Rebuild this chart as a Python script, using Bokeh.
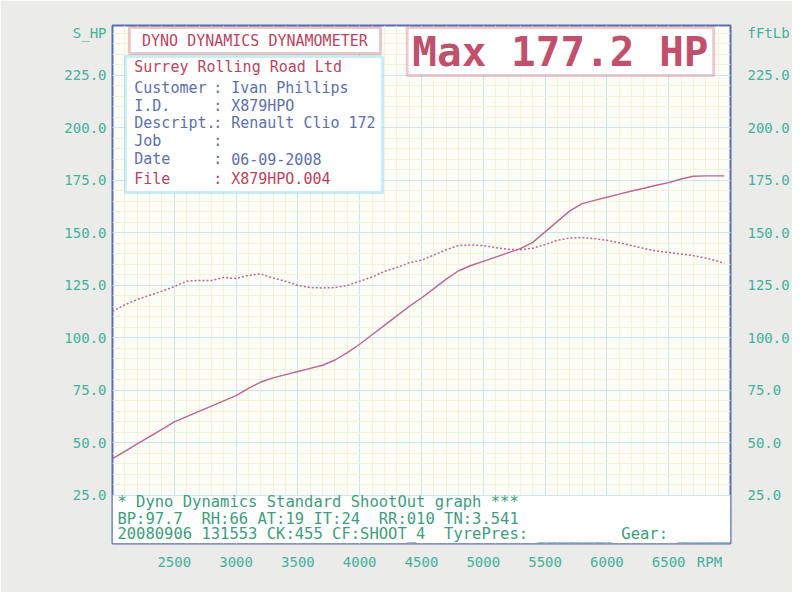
from bokeh.plotting import figure
from bokeh.models import (Range1d, LinearAxis, FixedTicker, SingleIntervalTicker,
                          NumeralTickFormatter, BoxAnnotation, Label, ColumnDataSource)
from bokeh.embed import file_html
from bokeh.resources import INLINE

# ---------------- data ----------------
rpm = [2000, 2100, 2200, 2300, 2400, 2500, 2600, 2700, 2800, 2900,
       3000, 3100, 3200, 3300, 3400, 3500, 3600, 3700, 3800, 3900,
       4000, 4100, 4200, 4300, 4400, 4500, 4600, 4700, 4800, 4900,
       5000, 5100, 5200, 5300, 5400, 5500, 5600, 5700, 5800, 5900,
       6000, 6100, 6200, 6300, 6400, 6500, 6600, 6700, 6800, 6900, 6950]
power_hp = [42.5, 46.0, 49.5, 53.0, 56.5, 60.0, 62.5, 65.0, 67.5, 70.0,
            72.5, 76.0, 79.0, 81.0, 82.5, 84.0, 85.5, 87.0, 89.5, 93.0,
            97.0, 101.5, 106.0, 110.5, 115.0, 119.0, 123.5, 128.0, 132.0, 134.5,
            136.5, 138.5, 140.5, 142.5, 145.5, 150.5, 155.5, 160.5, 164.0, 165.5,
            167.0, 168.5, 170.0, 171.3, 172.7, 174.0, 175.7, 177.0, 177.2, 177.2, 177.2]
torque_ftlb = [112.7, 115.8, 118.3, 120.3, 122.3, 124.5, 127.0, 127.4, 127.4, 128.8,
               128.3, 129.8, 130.5, 128.5, 127.0, 125.0, 124.0, 123.8, 124.0, 125.0,
               127.0, 129.0, 131.7, 133.5, 135.8, 137.0, 139.5, 142.0, 144.0, 144.3,
               144.0, 143.0, 142.2, 142.0, 142.7, 144.5, 146.5, 147.6, 147.8, 147.3,
               146.5, 145.3, 144.0, 142.6, 141.4, 140.7, 140.0, 139.2, 138.0, 136.5, 135.5]
hp_ticks = [25, 50, 75, 100, 125, 150, 175, 200, 225]
rpm_ticks = [2500, 3000, 3500, 4000, 4500, 5000, 5500, 6000, 6500]
left_unit, right_unit, rpm_unit = "S_HP", "fFtLb", "RPM"
unit_hp_pos, unit_rpm_pos = 245, 6830
max_hp = 177.2

title_text = "DYNO DYNAMICS DYNAMOMETER"
company = "Surrey Rolling Road Ltd"
info_rows = [("Customer", "Ivan Phillips"), ("I.D.", "X879HPO"),
             ("Descript.", "Renault Clio 172"), ("Job", ""), ("Date", "06-09-2008")]
file_row = ("File", "X879HPO.004")
footer_lines = ["* Dyno Dynamics Standard ShootOut graph ***",
                "BP:97.7  RH:66 AT:19 IT:24  RR:010 TN:3.541",
                "20080906 131553 CK:455 CF:SHOOT_4  TyrePres: ________ Gear: ______"]

# ---------------- geometry ----------------
X_START, X_END = 2000, 7000
Y_START, Y_END = 2.1, 248.8
FL, FR, FT, FB = 112, 737, 25, 543   # frame edges in page pixels
W, H = 792, 592
OFF = 0

def dx(px):
    return X_START + (px - FL) * (X_END - X_START) / (FR - FL)

def dy(py):
    return Y_START + (FB - py) * (Y_END - Y_START) / (FB - FT)

MONO = "DejaVu Sans Mono"
TEAL = "#45b19c"
GREEN = "#3f9c7e"
RED = "#b8455f"
BLUE = "#5d70aa"
CURVE = "#bb6594"

p = figure(width=W, height=H, output_backend="svg", toolbar_location=None,
           x_range=Range1d(X_START, X_END), y_range=Range1d(Y_START, Y_END),
           min_border_left=FL - OFF, min_border_right=W - (FR - OFF),
           min_border_top=FT - OFF, min_border_bottom=H - (FB - OFF),
           background_fill_color="#fdfdf8", border_fill_color="#ebebea",
           outline_line_color="#5b6db0", outline_line_width=2)

# grid: light blue majors, pale yellow minors
p.xgrid.ticker = SingleIntervalTicker(interval=500, num_minor_ticks=5)
p.ygrid.ticker = SingleIntervalTicker(interval=25, num_minor_ticks=5)
for g in (p.xgrid, p.ygrid):
    g.grid_line_color = "#c9e6f2"
    g.grid_line_width = 1
    g.minor_grid_line_color = "#f3f1d6"
    g.minor_grid_line_width = 1

def style_axis(ax, standoff):
    ax.axis_line_color = None
    ax.major_tick_line_color = None
    ax.minor_tick_line_color = None
    ax.major_label_text_font = MONO
    ax.major_label_text_font_size = "14px"
    ax.major_label_text_color = TEAL
    ax.major_label_standoff = standoff

p.xaxis.ticker = FixedTicker(ticks=rpm_ticks + [unit_rpm_pos], minor_ticks=[])
p.xaxis.major_label_overrides = {unit_rpm_pos: rpm_unit}
style_axis(p.xaxis[0], 4)
p.yaxis.ticker = FixedTicker(ticks=hp_ticks + [unit_hp_pos], minor_ticks=[])
p.yaxis.formatter = NumeralTickFormatter(format="0.0")
p.yaxis.major_label_overrides = {unit_hp_pos: left_unit}
style_axis(p.yaxis[0], 0)

right = LinearAxis(ticker=FixedTicker(ticks=hp_ticks + [unit_hp_pos], minor_ticks=[]),
                   formatter=NumeralTickFormatter(format="0.0"),
                   major_label_overrides={unit_hp_pos: right_unit})
style_axis(right, 11)
p.add_layout(right, "right")

src = ColumnDataSource(dict(rpm=rpm, hp=power_hp, tq=torque_ftlb))
p.line("rpm", "tq", source=src, line_color=CURVE, line_width=1.5, line_dash="2 2")
p.line("rpm", "hp", source=src, line_color=CURVE, line_width=1.4)

# footer area (no grid below 25)
p.add_layout(BoxAnnotation(left=X_START, right=X_END, bottom=Y_START, top=hp_ticks[0] - 0.3,
                           fill_color="white", fill_alpha=1.0, line_alpha=0))

# boxes
p.add_layout(BoxAnnotation(left=dx(129), right=dx(383), top=dy(27), bottom=dy(53),
                           fill_color="white", fill_alpha=1.0,
                           line_color="#b34a60", line_width=3))
p.add_layout(BoxAnnotation(left=dx(125), right=dx(385), top=dy(56), bottom=dy(192),
                           fill_color="white", fill_alpha=1.0,
                           line_color="#4cc6e8", line_width=3))
p.add_layout(BoxAnnotation(left=dx(410), right=dx(720), top=dy(27), bottom=dy(75),
                           fill_color="white", fill_alpha=1.0,
                           line_color="#bf5068", line_width=3))

def txt(s, px, py, size, color, align="left", style="normal"):
    p.add_layout(Label(x=dx(px), y=dy(py), text=s.replace(" ", "\u00a0"), text_font=MONO,
                       text_font_size=size, text_color=color, text_font_style=style,
                       text_align=align, text_baseline="middle"))

txt(title_text, 256, 40, "15px", RED, "center")
txt(f"Max {max_hp:.1f} HP", 565, 51, "41px", "#c0506c", "center", "bold")

txt(company, 134, 66, "15px", RED)
row_y = [87, 105, 122, 140, 158]
for (lab, val), yy in zip(info_rows, row_y):
    txt(lab, 134, yy, "15px", BLUE)
    txt(":", 214, yy, "15px", BLUE)
    if val:
        txt(val, 232, yy, "15px", BLUE)
txt(file_row[0], 134, 178, "15px", RED)
txt(":", 214, 178, "15px", RED)
txt(file_row[1], 232, 178, "15px", RED)

for s, yy in zip(footer_lines, [501, 518, 533]):
    txt(s, 117, yy, "15.5px", GREEN)

open("out.html", "w").write(file_html(p, INLINE))
